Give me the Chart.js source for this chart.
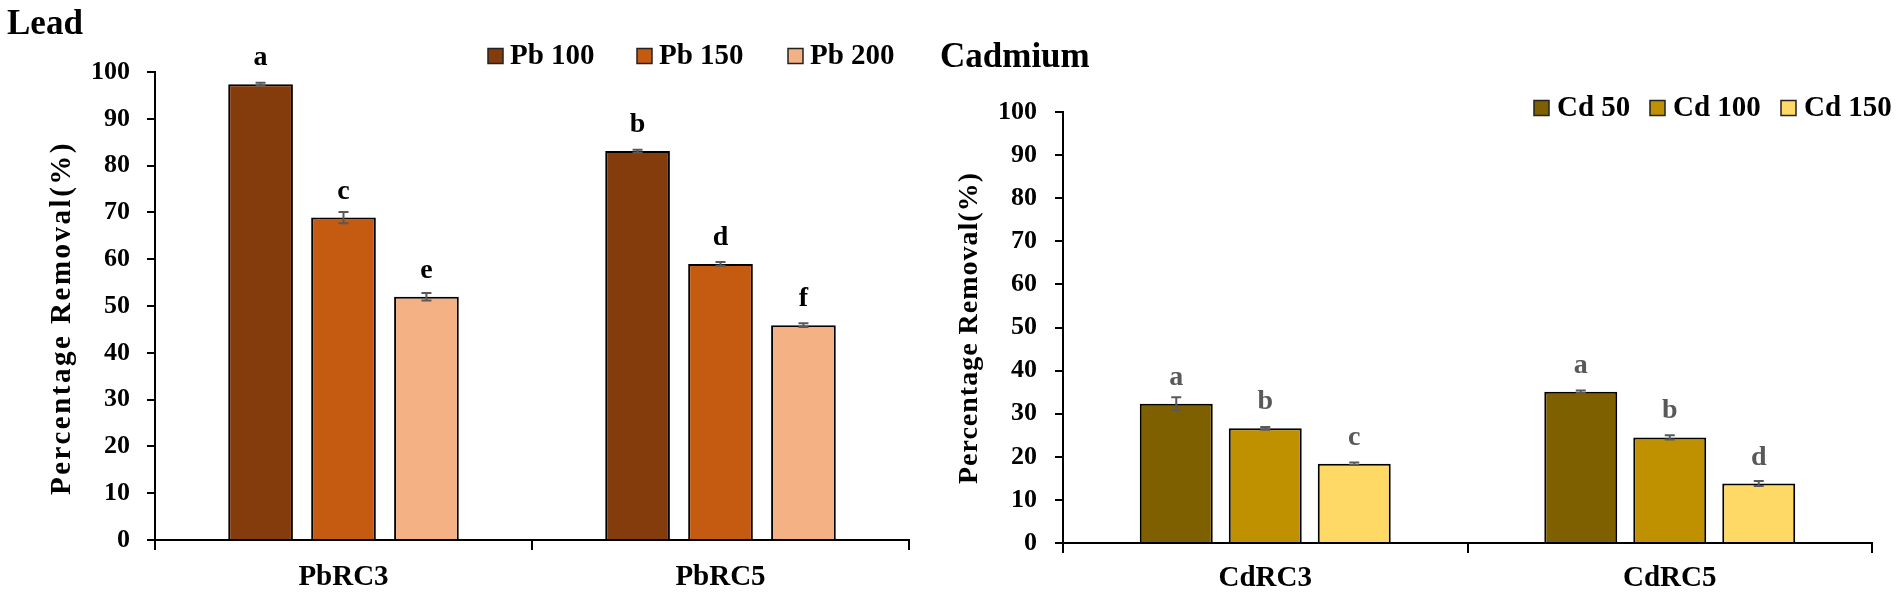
<!DOCTYPE html>
<html>
<head>
<meta charset="utf-8">
<script src="https://cdn.jsdelivr.net/npm/chart.js@4"></script>
<style>
  body { margin: 0; background: #fff; }
  #wrap { position: relative; width: 1902px; height: 595px; overflow: hidden; }
  .box { position: absolute; top: 0; height: 595px; }
</style>
</head>
<body>
<div id="wrap">
  <div class="box" style="left:7px;width:933px"><canvas id="chart-lead" width="933" height="595"></canvas></div>
  <div class="box" style="left:940px;width:962px"><canvas id="chart-cd" width="962" height="595"></canvas></div>
</div>
<script>
// Lead panel
const pbCategories = ['PbRC3', 'PbRC5'];
const pbLabels = ['Pb 100', 'Pb 150', 'Pb 200'];
const pb100 = [97.4, 83.1];
const pb150 = [68.9, 59.0];
const pb200 = [52.0, 45.9];
const pb100Err = [0.3, 0.3];
const pb150Err = [1.2, 0.4];
const pb200Err = [0.8, 0.4];
const pbLetters = [['a', 'b'], ['c', 'd'], ['e', 'f']];

// Cadmium panel
const cdCategories = ['CdRC3', 'CdRC5'];
const cdLabels = ['Cd 50', 'Cd 100', 'Cd 150'];
const cd50 = [32.3, 35.1];
const cd100 = [26.6, 24.5];
const cd150 = [18.4, 13.8];
const cd50Err = [1.5, 0.3];
const cd100Err = [0.3, 0.5];
const cd150Err = [0.3, 0.6];
const cdLetters = [['a', 'a'], ['b', 'b'], ['c', 'd']];

const yTicks = [0, 10, 20, 30, 40, 50, 60, 70, 80, 90, 100];

const serif = '"Liberation Serif", "Times New Roman", serif';

// draws error bars, letters, legend and rotated y title
function makeOverlay(cfg) {
  return {
    id: 'overlay',
    afterDatasetsDraw(chart) {
      const ctx = chart.ctx;
      const y = chart.scales.y;
      ctx.save();
      chart.data.datasets.forEach((ds, i) => {
        const meta = chart.getDatasetMeta(i);
        meta.data.forEach((bar, j) => {
          const v = ds.data[j];
          const e = cfg.errors[i][j];
          const yTop = y.getPixelForValue(v + e);
          const yBot = y.getPixelForValue(v - e);
          ctx.strokeStyle = '#595959';
          ctx.lineWidth = 2;
          ctx.beginPath();
          ctx.moveTo(bar.x, yTop); ctx.lineTo(bar.x, yBot);
          ctx.moveTo(bar.x - 5, yTop); ctx.lineTo(bar.x + 5, yTop);
          ctx.moveTo(bar.x - 5, yBot); ctx.lineTo(bar.x + 5, yBot);
          ctx.stroke();

          ctx.fillStyle = cfg.letterColor;
          ctx.font = 'bold 28px ' + serif;
          ctx.textAlign = 'center';
          ctx.textBaseline = 'alphabetic';
          ctx.fillText(cfg.letters[i][j], bar.x, y.getPixelForValue(v) - 19);
        });
      });

      // legend
      ctx.font = 'bold 29px ' + serif;
      ctx.textAlign = 'left';
      ctx.textBaseline = 'middle';
      chart.data.datasets.forEach((ds, i) => {
        const x0 = cfg.legendX[i];
        ctx.fillStyle = ds.backgroundColor;
        ctx.fillRect(x0, cfg.legendY - 7.5, 15, 15);
        ctx.strokeStyle = '#222';
        ctx.lineWidth = 1.5;
        ctx.strokeRect(x0, cfg.legendY - 7.5, 15, 15);
        ctx.fillStyle = '#000';
        ctx.fillText(ds.label, x0 + cfg.legendGap, cfg.legendY + 1);
      });

      // y axis title
      ctx.translate(cfg.titleX, cfg.titleY);
      ctx.rotate(-Math.PI / 2);
      ctx.letterSpacing = cfg.titleSpacing;
      ctx.font = 'bold ' + cfg.titleSize + 'px ' + serif;
      ctx.textAlign = 'center';
      ctx.textBaseline = 'middle';
      ctx.fillStyle = '#000';
      ctx.fillText('Percentage Removal(%)', 0, 0);
      ctx.restore();
    }
  };
}

function makeOptions(p) {
  return {
    responsive: false,
    animation: false,
    layout: { padding: { left: 0, right: p.padRight, top: 0, bottom: 0 } },
    plugins: {
      legend: { display: false },
      tooltip: { enabled: false },
      title: {
        display: true,
        text: p.title,
        align: 'start',
        color: '#000',
        font: { family: serif, size: 35, weight: 'bold' },
        padding: { top: p.titleTop, bottom: p.titleBottom }
      }
    },
    scales: {
      x: {
        grid: { display: true, drawOnChartArea: false, drawTicks: true, tickLength: 10, color: '#000', lineWidth: 2, offset: true },
        border: { display: true, color: '#000', width: 2 },
        ticks: { color: '#000', font: { family: serif, size: 29, weight: 'bold' }, padding: p.xPad },
        afterFit: s => { s.height = p.xHeight; }
      },
      y: {
        min: 0,
        max: 100,
        afterBuildTicks: s => { s.ticks = yTicks.map(v => ({ value: v })); },
        grid: { display: true, drawOnChartArea: false, drawTicks: true, tickLength: 8, color: '#000', lineWidth: 2 },
        border: { display: true, color: '#000', width: 2 },
        ticks: { color: '#000', font: { family: serif, size: 26, weight: 'bold' }, padding: p.yPad },
        afterFit: s => { s.width = p.yWidth; }
      }
    }
  };
}

new Chart(document.getElementById('chart-lead'), {
  type: 'bar',
  data: {
    labels: pbCategories,
    datasets: [
      { label: pbLabels[0], data: pb100, backgroundColor: '#843C0C' },
      { label: pbLabels[1], data: pb150, backgroundColor: '#C55A11' },
      { label: pbLabels[2], data: pb200, backgroundColor: '#F4B183' }
    ].map(d => Object.assign(d, { borderColor: '#000', borderWidth: 2, categoryPercentage: 0.66, barPercentage: 0.78 }))
  },
  options: makeOptions({ title: 'Lead', titleTop: 4, titleBottom: 26, padRight: 31, xHeight: 55, xPad: 10, yWidth: 148, yPad: 17 }),
  plugins: [makeOverlay({
    errors: [pb100Err, pb150Err, pb200Err],
    letters: pbLetters,
    letterColor: '#000',
    legendX: [481, 630, 781],
    legendY: 56,
    legendGap: 22,
    titleX: 56,
    titleY: 318,
    titleSize: 29,
    titleSpacing: '2.5px'
  })]
});

new Chart(document.getElementById('chart-cd'), {
  type: 'bar',
  data: {
    labels: cdCategories,
    datasets: [
      { label: cdLabels[0], data: cd50, backgroundColor: '#7F6000' },
      { label: cdLabels[1], data: cd100, backgroundColor: '#BF9000' },
      { label: cdLabels[2], data: cd150, backgroundColor: '#FFD966' }
    ].map(d => Object.assign(d, { borderColor: '#000', borderWidth: 2, categoryPercentage: 0.66, barPercentage: 0.82 }))
  },
  options: makeOptions({ title: 'Cadmium', titleTop: 37, titleBottom: 33, padRight: 30, xHeight: 52, xPad: 8, yWidth: 123, yPad: 18 }),
  plugins: [makeOverlay({
    errors: [cd50Err, cd100Err, cd150Err],
    letters: cdLetters,
    letterColor: '#595959',
    legendX: [594, 710, 841],
    legendY: 108,
    legendGap: 23,
    titleX: 30,
    titleY: 328,
    titleSize: 28,
    titleSpacing: '1px'
  })]
});
</script>
</body>
</html>
